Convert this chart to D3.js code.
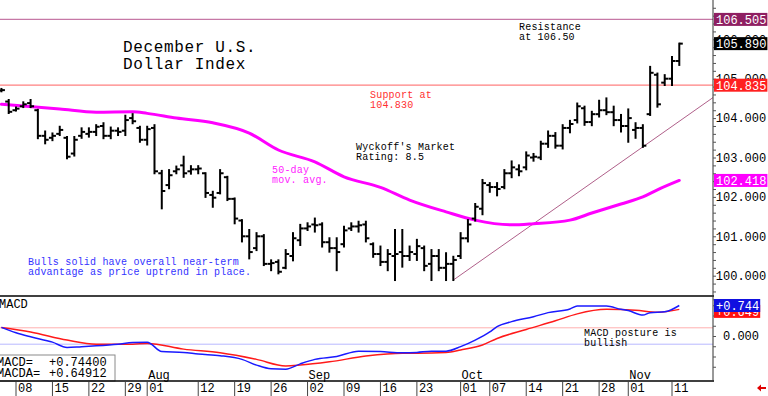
<!DOCTYPE html>
<html>
<head>
<meta charset="utf-8">
<script src="https://cdn.jsdelivr.net/npm/d3@7"></script>
<style>
body { margin: 0; background: #fff; }
svg { display: block; font-family: "Liberation Mono", "DejaVu Sans Mono", monospace; }
</style>
</head>
<body>
<div id="visDiv"></div>
<script>
(function () {

	///////////////////////
	// DATA
	//
	var firstDay = "2024-07-03", lastDay = "2024-11-12",
		holidays = ["2024-07-04"];

	// daily bars, Jul 3 .. Nov 12 (one value per trading day)
	var opens = [104.70,104.42,104.20,104.30,104.38,104.20,103.55,103.50,103.60,103.50,103.10,103.55,103.60,103.65,103.80,103.55,103.68,103.68,104.00,103.75,
		103.45,103.75,102.60,102.30,102.65,102.80,102.65,102.70,102.60,102.05,102.10,102.50,101.95,101.40,101.00,100.70,101.00,100.30,100.35,100.20,
		100.50,100.90,101.20,101.30,101.30,100.85,100.70,100.80,101.20,101.25,101.30,100.80,100.55,100.35,100.50,100.60,100.50,100.55,100.70,100.30,
		100.50,100.20,100.30,100.50,100.95,101.45,101.70,102.30,102.25,102.25,102.60,102.70,102.75,103.00,103.00,103.35,103.55,103.30,103.75,103.95,
		104.25,103.90,104.10,104.20,104.15,103.95,103.80,103.70,103.75,104.10,105.10,104.90,105.00,105.45];
	var highs = [104.74,104.46,104.27,104.40,104.46,104.21,103.66,103.61,103.78,103.52,103.52,103.74,103.74,103.82,103.87,103.76,103.74,104.06,104.10,103.78,
		103.78,103.82,102.66,102.68,102.77,103.02,102.78,102.78,102.60,102.13,102.68,102.51,101.96,101.41,101.16,101.08,101.03,100.39,100.39,100.65,
		101.08,101.29,101.33,101.45,101.33,100.95,100.95,101.24,101.33,101.37,101.37,100.82,100.74,100.65,101.16,101.16,100.74,100.91,100.74,100.65,
		100.65,100.57,100.48,101.08,101.41,101.82,102.43,102.35,102.35,102.68,102.90,102.80,103.13,103.09,103.40,103.66,103.62,103.82,103.93,104.37,
		104.29,104.16,104.44,104.50,104.29,104.08,104.22,103.87,103.82,105.30,105.13,105.09,105.55,105.89];
	var lows = [104.68,104.13,104.19,104.28,104.28,103.49,103.36,103.44,103.57,102.98,103.05,103.50,103.53,103.57,103.49,103.49,103.57,103.57,103.87,103.40,
		103.33,102.60,101.71,102.22,102.60,102.51,102.59,102.60,102.00,101.75,102.09,101.92,101.33,100.87,100.44,100.65,100.27,100.14,100.06,100.19,
		100.39,100.78,101.16,101.12,100.74,100.61,100.14,100.74,101.16,101.12,100.87,100.48,100.27,100.14,99.89,100.23,100.40,100.40,100.14,99.89,
		100.14,99.89,99.89,100.45,100.87,101.40,101.56,102.13,102.04,102.22,102.50,102.55,102.70,102.92,102.96,103.27,103.25,103.23,103.64,103.89,
		103.83,103.82,104.04,104.10,103.82,103.66,103.40,103.50,103.27,104.08,104.29,104.84,104.84,105.35];
	var closes = [104.71,104.16,104.24,104.35,104.30,103.55,103.45,103.55,103.70,103.02,103.45,103.65,103.65,103.78,103.55,103.68,103.65,103.95,103.92,103.45,
		103.72,102.65,102.15,102.55,102.70,102.60,102.70,102.72,102.10,101.98,102.60,101.95,101.45,101.00,100.60,101.00,100.30,100.32,100.10,100.55,
		100.95,101.20,101.25,101.28,100.85,100.70,100.60,101.15,101.25,101.28,100.95,100.55,100.35,100.55,100.55,100.50,100.60,100.75,100.25,100.50,
		100.20,100.30,100.40,100.95,101.30,101.75,102.35,102.25,102.20,102.60,102.75,102.65,103.05,103.02,103.35,103.55,103.30,103.75,103.85,104.30,
		103.90,104.10,104.20,104.15,103.95,103.80,104.00,103.75,103.30,105.15,104.35,105.00,105.45,105.89];

	// 50-day moving average, read at points
	var maDates = ["2024-07-03","2024-07-16","2024-07-23","2024-07-30","2024-08-01","2024-08-07","2024-08-14","2024-08-21","2024-08-27","2024-09-03",
		"2024-09-09","2024-09-16","2024-09-20","2024-09-27","2024-10-03","2024-10-10","2024-10-15","2024-10-22","2024-10-25","2024-10-31",
		"2024-11-05","2024-11-07","2024-11-12"];
	var maValues = [104.35,104.23,104.15,104.16,104.12,104.00,103.88,103.62,103.19,102.89,
		102.51,102.24,101.92,101.62,101.41,101.29,101.32,101.41,101.59,101.82,
		102.00,102.18,102.418];

	// MACD (blue) and MACDA (red)
	var macdDates = ["2024-07-03","2024-07-08","2024-07-10","2024-07-15","2024-07-17","2024-07-19","2024-07-23","2024-07-26","2024-07-30","2024-08-01",
		"2024-08-05","2024-08-08","2024-08-12","2024-08-15","2024-08-20","2024-08-22","2024-08-26","2024-08-28","2024-08-30","2024-09-03",
		"2024-09-06","2024-09-11","2024-09-16","2024-09-19","2024-09-23","2024-09-25","2024-09-27","2024-10-01","2024-10-03","2024-10-07",
		"2024-10-08","2024-10-10","2024-10-15","2024-10-17","2024-10-22","2024-10-23","2024-10-29","2024-10-31","2024-11-01","2024-11-05",
		"2024-11-06","2024-11-08","2024-11-12"];
	var macdValues = [0.21,0.08,-0.02,-0.15,-0.28,-0.26,-0.24,-0.20,-0.16,-0.15,
		-0.38,-0.40,-0.44,-0.48,-0.57,-0.71,-0.80,-0.81,-0.68,-0.57,
		-0.50,-0.37,-0.38,-0.41,-0.40,-0.37,-0.37,-0.26,-0.10,0.10,
		0.23,0.35,0.47,0.57,0.66,0.73,0.73,0.65,0.62,0.51,
		0.57,0.59,0.744];
	var macdaDates = ["2024-07-03","2024-07-10","2024-07-17","2024-07-23","2024-07-30","2024-08-01","2024-08-08","2024-08-15","2024-08-22","2024-08-28",
		"2024-08-30","2024-09-05","2024-09-12","2024-09-19","2024-09-23","2024-09-27","2024-10-01","2024-10-04","2024-10-08","2024-10-14",
		"2024-10-18","2024-10-23","2024-10-29","2024-11-04","2024-11-07","2024-11-12"];
	var macdaValues = [0.21,0.10,-0.10,-0.20,-0.20,-0.18,-0.32,-0.41,-0.57,-0.73,
		-0.71,-0.63,-0.49,-0.42,-0.42,-0.40,-0.34,-0.22,-0.06,0.16,
		0.37,0.54,0.65,0.63,0.58,0.64912];

	var tickDates = ["2024-07-08","2024-07-15","2024-07-22","2024-07-29","2024-08-01","2024-08-12","2024-08-19","2024-08-26","2024-09-02","2024-09-09",
		"2024-09-16","2024-09-23","2024-10-01","2024-10-07","2024-10-14","2024-10-21","2024-10-28","2024-11-01","2024-11-11"];
	var monthDates = ["2024-08-01","2024-09-02","2024-10-01","2024-11-01"];
	var monthLabels = ["Aug","Sep","Oct","Nov"];

	var resistance = 106.505, support = 104.835;
	var trendFrom = "2024-09-30", trendTo = "2024-11-05";

	///////////////////////
	// DEFS
	//
	var W = 768, H = 396,
		plotR = 713,
		priceTop = 0, priceBot = 296,
		macdTop = 296, macdBot = 381;

	var parseDate = d3.timeParse("%Y-%m-%d"),
		fmt = d3.timeFormat("%Y-%m-%d");

	// trading calendar (weekdays without holidays)
	var dates = d3.timeDays(parseDate(firstDay), d3.timeDay.offset(parseDate(lastDay), 1))
		.filter(function(d) { return d.getDay() !== 0 && d.getDay() !== 6 && holidays.indexOf(fmt(d)) < 0; })
		.map(fmt);
	function idx(d) { return dates.indexOf(d); }

	var x = d3.scaleLinear().domain([2, 92]).range([16, 672]);
	var y = d3.scaleLinear().domain([100, 106]).range([275.7, 39.3]);
	var ym = d3.scaleLinear().domain([-1, 1]).range([377, 295]);

	var svg = d3.select("#visDiv").append("svg")
		.attr("width", W).attr("height", H);

	var defs = svg.append("defs");
	defs.append("clipPath").attr("id", "clipP").append("rect")
		.attr("x", 0).attr("y", priceTop).attr("width", plotR).attr("height", priceBot - priceTop);
	defs.append("clipPath").attr("id", "clipM").append("rect")
		.attr("x", 0).attr("y", macdTop).attr("width", plotR).attr("height", macdBot - macdTop);

	///////////////////////
	// PRICE PANEL
	//
	var price = svg.append("g").attr("clip-path", "url(#clipP)");

	price.append("line")
		.attr("x1", 0).attr("x2", plotR)
		.attr("y1", y(resistance)).attr("y2", y(resistance))
		.attr("stroke", "#c678a6").attr("stroke-width", 1.2);
	price.append("line")
		.attr("x1", 0).attr("x2", plotR)
		.attr("y1", y(support)).attr("y2", y(support))
		.attr("stroke", "#ff8080").attr("stroke-width", 1.2);

	// trend line through the two lows, run out to the right edge
	var i0 = idx(trendFrom), i1 = idx(trendTo),
		v0 = lows[i0], v1 = lows[i1],
		slope = (v1 - v0) / (i1 - i0),
		iEnd = x.invert(plotR);
	price.append("line")
		.attr("x1", x(i0)).attr("y1", y(v0))
		.attr("x2", x(iEnd)).attr("y2", y(v0 + slope * (iEnd - i0)))
		.attr("stroke", "#b0608a").attr("stroke-width", 1);

	var maLine = d3.line()
		.x(function(d) { return x(idx(d[0])); })
		.y(function(d) { return y(d[1]); })
		.curve(d3.curveMonotoneX);
	price.append("path")
		.datum(d3.zip(maDates, maValues))
		.attr("fill", "none")
		.attr("stroke", "#ff00ff")
		.attr("stroke-width", 3)
		.attr("stroke-linecap", "round")
		.attr("d", maLine);

	var bars = price.append("g").selectAll("g")
		.data(dates.map(function(d, i) { return i; }))
		.enter().append("g")
			.attr("stroke", "#000")
			.attr("stroke-width", 2);
	bars.append("line")
		.attr("x1", function(i) { return x(i); }).attr("x2", function(i) { return x(i); })
		.attr("y1", function(i) { return y(highs[i]) - 1; })
		.attr("y2", function(i) { return y(lows[i]) + 1; });
	bars.append("line")
		.attr("x1", function(i) { return x(i) - 3.5; }).attr("x2", function(i) { return x(i); })
		.attr("y1", function(i) { return y(opens[i]); }).attr("y2", function(i) { return y(opens[i]); });
	bars.append("line")
		.attr("x1", function(i) { return x(i); }).attr("x2", function(i) { return x(i) + 3.5; })
		.attr("y1", function(i) { return y(closes[i]); }).attr("y2", function(i) { return y(closes[i]); });

	///////////////////////
	// MACD PANEL
	//
	var macd = svg.append("g").attr("clip-path", "url(#clipM)");
	macd.append("line")
		.attr("x1", 0).attr("x2", plotR).attr("y1", ym(0.2)).attr("y2", ym(0.2))
		.attr("stroke", "#ffb0b0").attr("stroke-width", 1);
	macd.append("line")
		.attr("x1", 0).attr("x2", plotR).attr("y1", ym(-0.2)).attr("y2", ym(-0.2))
		.attr("stroke", "#b8b8ff").attr("stroke-width", 1);

	var mLine = d3.line()
		.x(function(d) { return x(idx(d[0])); })
		.y(function(d) { return ym(d[1]); })
		.curve(d3.curveMonotoneX);
	macd.append("path")
		.datum(d3.zip(macdaDates, macdaValues))
		.attr("fill", "none").attr("stroke", "#ff1a1a").attr("stroke-width", 1.5)
		.attr("d", mLine);
	macd.append("path")
		.datum(d3.zip(macdDates, macdValues))
		.attr("fill", "none").attr("stroke", "#1a1aff").attr("stroke-width", 1.5)
		.attr("d", mLine);

	// month names inside MACD panel
	svg.append("g").selectAll("text")
		.data(monthDates)
		.enter().append("text")
			.attr("x", function(d) { return x(idx(d)) + 1; })
			.attr("y", 379)
			.attr("font-size", 12)
			.attr("fill", "#000")
			.text(function(d, i) { return monthLabels[i]; });

	svg.append("text")
		.attr("x", -1).attr("y", 308)
		.attr("font-size", 12).text("MACD");

	// legend box
	var leg = svg.append("g");
	leg.append("rect")
		.attr("x", -1).attr("y", 355).attr("width", 116).attr("height", 26)
		.attr("fill", "#fff").attr("stroke", "#8a8a8a");
	leg.append("text").attr("x", -3).attr("y", 366).attr("font-size", 12).text("MACD=");
	leg.append("text").attr("x", 49).attr("y", 366).attr("font-size", 12)
		.text(d3.format("+.5f")(macdValues[macdValues.length - 1]));
	leg.append("text").attr("x", -3).attr("y", 377).attr("font-size", 12).text("MACDA=");
	leg.append("text").attr("x", 49).attr("y", 377).attr("font-size", 12)
		.text(d3.format("+.5f")(macdaValues[macdaValues.length - 1]));

	///////////////////////
	// FRAME + AXES
	//
	svg.append("line").attr("x1", 0).attr("x2", plotR + 1).attr("y1", priceBot).attr("y2", priceBot)
		.attr("stroke", "#000").attr("stroke-width", 1.5);
	svg.append("line").attr("x1", 0).attr("x2", plotR + 1).attr("y1", macdBot).attr("y2", macdBot)
		.attr("stroke", "#000").attr("stroke-width", 1.5);
	svg.append("line").attr("x1", plotR).attr("x2", plotR).attr("y1", 0).attr("y2", macdBot)
		.attr("stroke", "#333").attr("stroke-width", 1);

	var minor = svg.append("g").attr("transform", "translate(" + plotR + ",0)")
		.call(d3.axisRight(y).tickValues(d3.range(99.4, 107, 0.2)).tickSize(3).tickFormat(""));
	minor.select(".domain").remove();
	minor.selectAll("line").attr("stroke", "#555");

	var mMinor = svg.append("g").attr("transform", "translate(" + plotR + ",0)")
		.call(d3.axisRight(ym).tickValues([-0.75, -0.5, -0.25, 0, 0.25, 0.5, 0.75]).tickSize(3).tickFormat(""));
	mMinor.select(".domain").remove();
	mMinor.selectAll("line").attr("stroke", "#555");

	var yAxis = svg.append("g").attr("transform", "translate(" + plotR + ",0)")
		.call(d3.axisRight(y).tickValues(d3.range(100, 107, 1)).tickSize(0).tickFormat(d3.format(".3f")));
	yAxis.select(".domain").remove();
	yAxis.selectAll("text")
		.attr("x", 28).attr("text-anchor", "middle")
		.attr("font-family", "Liberation Mono, monospace").attr("font-size", 12).attr("fill", "#000");

	var mAxis = svg.append("g").attr("transform", "translate(" + plotR + ",0)")
		.call(d3.axisRight(ym).tickValues([0]).tickSize(0).tickFormat(d3.format(".3f")));
	mAxis.select(".domain").remove();
	mAxis.selectAll("text")
		.attr("x", 28).attr("text-anchor", "middle")
		.attr("font-family", "Liberation Mono, monospace").attr("font-size", 12).attr("fill", "#000");

	// date row
	var dRow = svg.append("g").selectAll("g")
		.data(tickDates)
		.enter().append("g")
			.attr("transform", function(d) { return "translate(" + x(idx(d)) + ",0)"; });
	dRow.append("line").attr("y1", macdBot + 1).attr("y2", H)
		.attr("stroke", "#444").attr("stroke-width", 1);
	dRow.append("text").attr("x", 2).attr("y", 392).attr("font-size", 12)
		.text(function(d) { return d.slice(8); });

	///////////////////////
	// VALUE BOXES
	//
	function valueBox(yy, fill, label) {
		var g = svg.append("g");
		g.append("rect").attr("x", plotR + 1).attr("y", yy - 6.5)
			.attr("width", label.length * 7.2 + 3).attr("height", 13).attr("fill", fill);
		g.append("text").attr("x", plotR + 3).attr("y", yy + 4.3)
			.attr("font-size", 12).attr("fill", "#fff").text(label);
	}
	var f3 = d3.format(".3f"),
		lastC = closes[closes.length - 1],
		lastMa = maValues[maValues.length - 1],
		lastA = macdaValues[macdaValues.length - 1],
		lastM = macdValues[macdValues.length - 1];
	valueBox(y(resistance), "#8f1f62", f3(resistance));
	valueBox(y(lastC), "#000", f3(lastC));
	valueBox(y(support), "#ff2020", f3(support));
	valueBox(y(lastMa), "#ff00ff", f3(lastMa));
	valueBox(ym(lastA) + 2, "#ff1010", d3.format("+.3f")(lastA));
	valueBox(ym(lastM), "#1010e0", d3.format("+.3f")(lastM));

	///////////////////////
	// NOTES
	//
	function note(x0, y0, lines, color, size, ls) {
		var t = svg.append("text").attr("font-size", size).attr("fill", color)
			.attr("letter-spacing", ls);
		lines.forEach(function(s, k) {
			t.append("tspan").attr("x", x0).attr("y", y0 + k * (size === 16 ? 16.7 : 10.3)).text(s);
		});
	}
	note(123, 52.3, ["December U.S.", "Dollar Index"], "#000", 16, 0.65);
	note(519, 30, ["Resistance", "at 106.50"], "#000", 10, 0.2);
	note(370, 98, ["Support at", "104.830"], "#ff3030", 10, 0.2);
	note(356, 150, ["Wyckoff's Market", "Rating: 8.5"], "#000", 10, 0.2);
	note(272, 172.5, ["50-day", "mov. avg."], "#ff22ff", 10, 0.2);
	note(28, 265, ["Bulls solid have overall near-term", "advantage as price uptrend in place."], "#3333ff", 10, 0.2);
	note(584, 335.5, ["MACD posture is", "bullish"], "#000", 10, 0.2);

	// small red arrow bottom right
	svg.append("path")
		.attr("d", "M757,388 L761,384.5 L761,387 L766,387 L766,389 L761,389 L761,391.5 Z")
		.attr("fill", "#e00000");

}());
</script>
</body>
</html>
